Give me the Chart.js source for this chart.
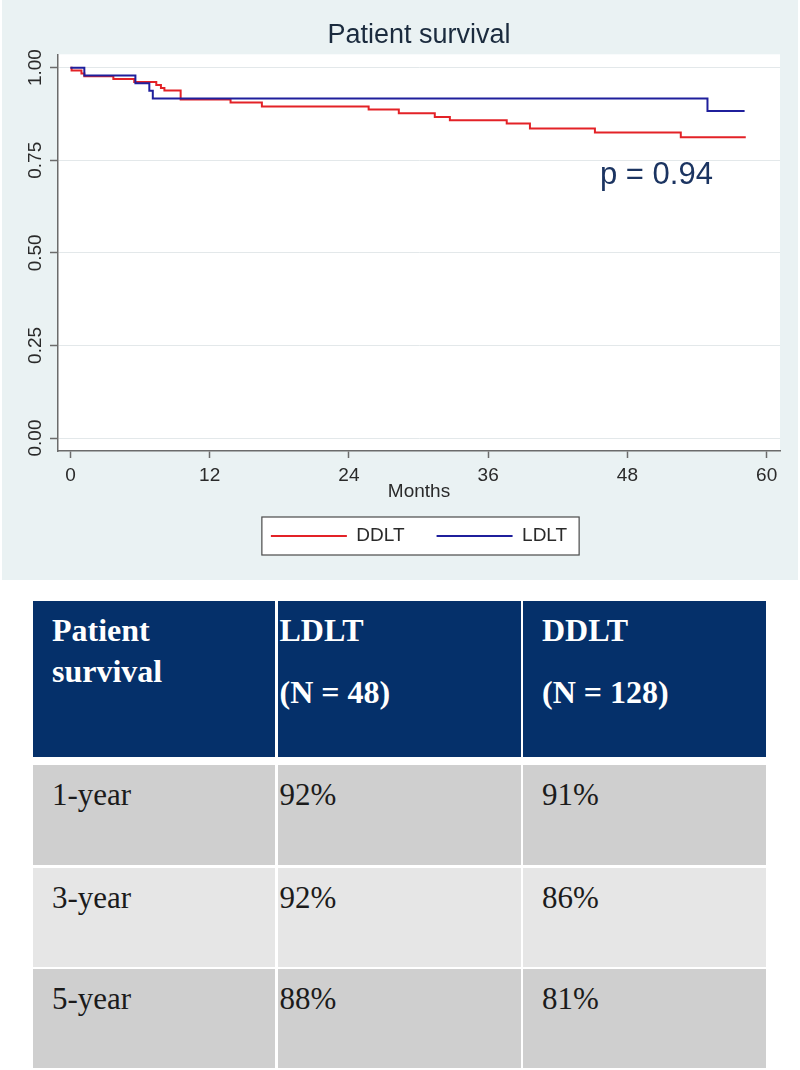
<!DOCTYPE html>
<html lang="en">
<head>
<meta charset="UTF-8">
<title>Patient survival</title>
<script src="https://cdn.jsdelivr.net/npm/chart.js@4"></script>
<style>
  body { margin: 0; background: #fff; width: 800px; height: 1070px; position: relative; overflow: hidden; }
  .plot-bg { position: absolute; left: 2px; top: 0; width: 796px; height: 580px; background: #eaf2f3; }
  #kmChart { display: block; }
  .tbl { position: absolute; left: 33px; top: 601px; display: grid;
         grid-template-columns: 242px 243px 243px; grid-template-rows: 156px 3px 100px 99px 99px; gap: 2.5px; }
  .tbl div.c { box-sizing: border-box; padding-top: 9px; line-height: 41px; font-family: "Liberation Serif", "Times New Roman", serif; }
  .hd { background: #05306a; color: #fff; font-weight: bold; font-size: 32px; }
  .bd { color: #1b1b1b; font-size: 31px; }
  .col0, .col2 { padding-left: 19px; }
  .col1 { padding-left: 2px; }
  .n-line { margin-top: 21px; }
</style>
</head>
<body>
<div class="plot-bg"><canvas id="kmChart" width="796" height="580"></canvas></div>
<div class="tbl" id="tbl"></div>

<script>
  // Kaplan-Meier curves (months, survival)
  const monthTicks = [0, 12, 24, 36, 48, 60];
  const survTicks = [0, 0.25, 0.5, 0.75, 1];

  const ddltMonths = [0, 0.1, 0.95, 1.2, 3.7, 5.5, 7.4, 7.8, 8.1, 9.5, 13.8, 16.5, 25.7, 28.3, 31.4, 32.7, 37.6, 39.6, 45.2, 52.6, 58.2];
  const ddltSurv   = [1.0, 0.992, 0.984, 0.977, 0.969, 0.961, 0.953, 0.945, 0.938, 0.914, 0.906, 0.895, 0.887, 0.877, 0.867, 0.858, 0.849, 0.836, 0.825, 0.812, 0.812];

  const ldltMonths = [0, 1.2, 5.6, 6.8, 7.1, 54.9, 58.1];
  const ldltSurv   = [1.0, 0.979, 0.958, 0.9375, 0.917, 0.883, 0.883];

  const pValueText = 'p = 0.94';
  const pValueAt = [50.5, 0.708];

  // table
  const headerLines = [['Patient', 'survival'], ['LDLT', '(N = 48)'], ['DDLT', '(N = 128)']];
  const rowLabels = ['1-year', '3-year', '5-year'];
  const ldltPct = ['92%', '92%', '88%'];
  const ddltPct = ['91%', '86%', '81%'];
  const rowColors = ['#cfcfcf', '#e6e6e6', '#cfcfcf'];

  const RED = '#e32227';
  const BLUE = '#1f1f9c';
  const AXIS = '#6b6b6b';
  Chart.defaults.font.family = '"Liberation Sans", Arial, sans-serif';

  const pts = (xs, ys) => xs.map((t, i) => ({ x: t, y: ys[i] }));

  const kmDecor = {
    id: 'kmDecor',
    beforeDraw(chart) {
      const { ctx, chartArea: a } = chart;
      ctx.save();
      ctx.fillStyle = '#fff';
      ctx.fillRect(a.left, a.top, a.right - a.left, a.bottom - a.top);
      // frame round the legend
      const hb = chart.legend.legendHitBoxes;
      if (hb && hb.length) {
        const last = hb[hb.length - 1];
        const l = hb[0].left - 9, r = last.left + last.width + 12;
        const cy = hb[0].top + hb[0].height / 2;
        ctx.fillRect(l, cy - 19, r - l, 38);
        ctx.strokeStyle = '#4a4a4a';
        ctx.lineWidth = 1.2;
        ctx.strokeRect(l, cy - 19, r - l, 38);
      }
      ctx.restore();
    },
    afterDraw(chart) {
      const { ctx } = chart;
      const ys = chart.scales.y, xs = chart.scales.x;
      ctx.save();
      // vertical y tick labels
      ctx.fillStyle = '#2a2a2a';
      ctx.font = '19px "Liberation Sans", Arial, sans-serif';
      ctx.textAlign = 'center';
      ctx.textBaseline = 'middle';
      ys.ticks.forEach(t => {
        ctx.save();
        ctx.translate(ys.right - 22.5, ys.getPixelForValue(t.value));
        ctx.rotate(-Math.PI / 2);
        ctx.fillText(t.value.toFixed(2), 0, 0);
        ctx.restore();
      });
      ctx.fillStyle = '#1b3461';
      ctx.font = '31px "Liberation Sans", Arial, sans-serif';
      ctx.fillText(pValueText, xs.getPixelForValue(pValueAt[0]), ys.getPixelForValue(pValueAt[1]));
      ctx.restore();
    }
  };

  new Chart(document.getElementById('kmChart'), {
    type: 'line',
    data: {
      datasets: [
        { label: 'DDLT', data: pts(ddltMonths, ddltSurv), borderColor: RED, backgroundColor: RED, borderWidth: 2, stepped: true, pointRadius: 0, fill: false, order: 1 },
        { label: 'LDLT', data: pts(ldltMonths, ldltSurv), borderColor: BLUE, backgroundColor: BLUE, borderWidth: 2, stepped: true, pointRadius: 0, fill: false, order: 0 }
      ]
    },
    options: {
      responsive: false,
      animation: false,
      devicePixelRatio: 1,
      layout: { padding: { left: 0, right: 18, top: 0, bottom: 24.5 } },
      scales: {
        x: {
          type: 'linear', min: -1.07, max: 61.15,
          afterBuildTicks: s => { s.ticks = monthTicks.map(v => ({ value: v })); },
          afterFit: s => { s.height = 43.5; },
          ticks: { font: { size: 19 }, color: '#2a2a2a', padding: 6, maxRotation: 0 },
          grid: { drawOnChartArea: false, tickLength: 7, tickColor: AXIS, tickWidth: 1.5 },
          border: { color: AXIS, width: 1.5 },
          title: { display: true, text: 'Months', font: { size: 19 }, color: '#2a2a2a', padding: { top: 0, bottom: -9 } }
        },
        y: {
          min: -0.035, max: 1.036,
          afterBuildTicks: s => { s.ticks = survTicks.map(v => ({ value: v })); },
          afterFit: s => { s.width = 56; },
          ticks: { display: false },
          grid: { color: '#e3e8ea', tickLength: 8, tickColor: AXIS, tickWidth: 1.5 },
          border: { color: AXIS, width: 1.5 }
        }
      },
      plugins: {
        title: { display: true, text: 'Patient survival', fullSize: false, color: '#1b2b3e',
                 font: { size: 27, weight: 'normal' }, padding: { top: 19.6, bottom: 2.3 } },
        legend: {
          position: 'bottom', fullSize: false,
          labels: {
            boxWidth: 76, boxHeight: 2, padding: 32, color: '#2a2a2a', font: { size: 19 },
            sort: (a, b) => a.datasetIndex - b.datasetIndex,
            generateLabels: chart => Chart.defaults.plugins.legend.labels.generateLabels(chart)
              .map(l => ({ ...l, lineWidth: 0, fillStyle: l.strokeStyle }))
          }
        },
        tooltip: { enabled: false }
      }
    },
    plugins: [kmDecor]
  });

  // table below the chart
  const tbl = document.getElementById('tbl');
  const addCell = (row, col, cls, lines, bg) => {
    const d = document.createElement('div');
    d.className = 'c ' + cls + ' col' + col;
    d.style.gridRow = row;
    d.style.gridColumn = col + 1;
    if (bg) d.style.background = bg;
    lines.forEach((txt, i) => {
      const ln = document.createElement('div');
      ln.textContent = txt;
      if (i > 0 && col > 0) ln.className = 'n-line';
      d.appendChild(ln);
    });
    tbl.appendChild(d);
  };
  headerLines.forEach((lines, c) => addCell(1, c, 'hd', lines));
  rowLabels.forEach((lab, r) => {
    addCell(r + 3, 0, 'bd', [lab], rowColors[r]);
    addCell(r + 3, 1, 'bd', [ldltPct[r]], rowColors[r]);
    addCell(r + 3, 2, 'bd', [ddltPct[r]], rowColors[r]);
  });
</script>
</body>
</html>
